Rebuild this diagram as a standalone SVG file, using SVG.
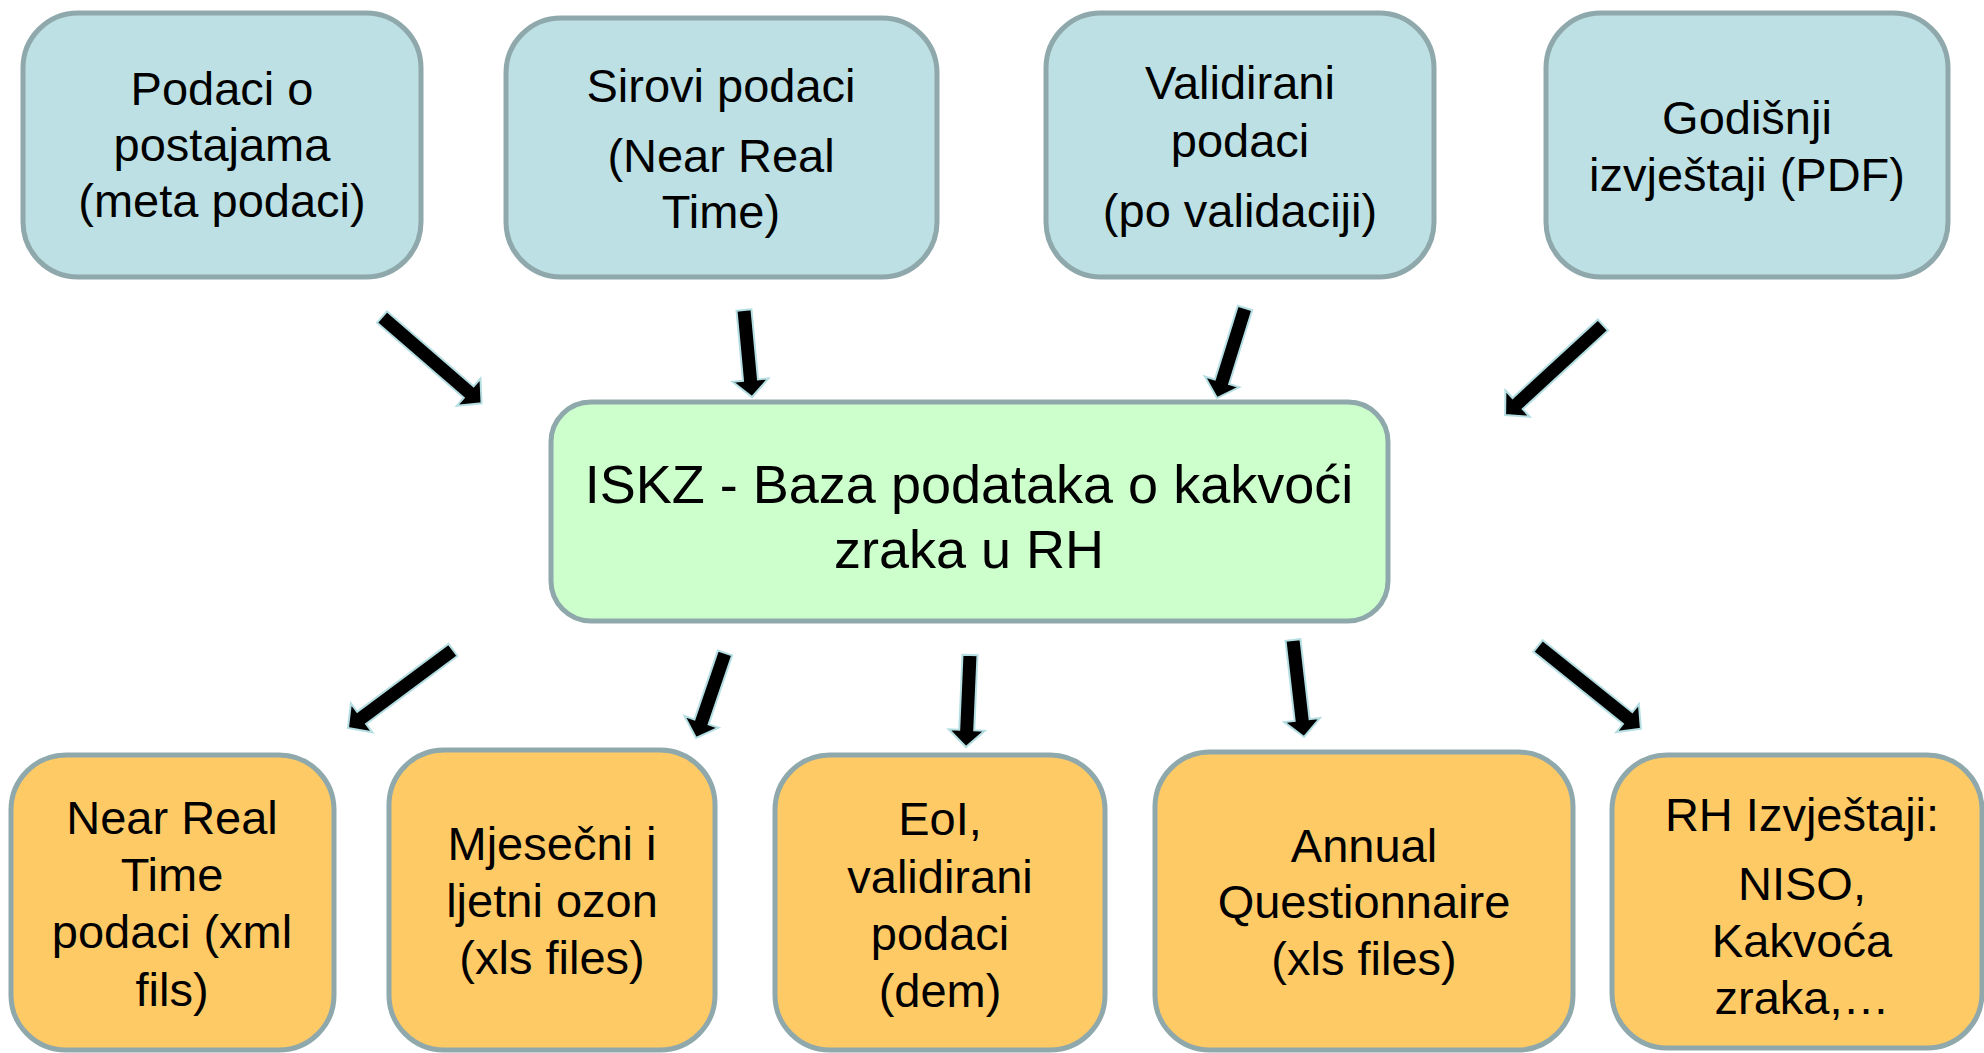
<svg xmlns="http://www.w3.org/2000/svg" width="1984" height="1053" viewBox="0 0 1984 1053">
<style>
.box{stroke:#8FA8AB;stroke-width:5}
.src{fill:#BCE0E3}
.db{fill:#CCFFCC}
.out{fill:#FECA66}
text{font-family:"Liberation Sans",Arial,sans-serif;font-size:47px;fill:#000;text-anchor:middle}
.big{font-size:54px}
.arr{fill:#000;stroke:#B4DEE2;stroke-width:2;stroke-linejoin:miter}
</style>
<rect width="1984" height="1053" fill="#fff"/>
<g id="connectors">
<polygon class="arr" points="0,-7.5 114.7,-7.5 114.7,-18 131.7,0 114.7,18 114.7,7.5 0,7.5" transform="translate(382,317) rotate(40.9)"/>
<polygon class="arr" points="0,-7.5 70.4,-7.5 70.4,-18 87.4,0 70.4,18 70.4,7.5 0,7.5" transform="translate(744,310) rotate(84.7)"/>
<polygon class="arr" points="0,-7.5 77.3,-7.5 77.3,-18 94.3,0 77.3,18 77.3,7.5 0,7.5" transform="translate(1245,308) rotate(107.3)"/>
<polygon class="arr" points="0,-7.5 116,-7.5 116,-18 133,0 116,18 116,7.5 0,7.5" transform="translate(1603,325) rotate(137.4)"/>
<polygon class="arr" points="0,-7.5 113.8,-7.5 113.8,-18 130.8,0 113.8,18 113.8,7.5 0,7.5" transform="translate(453,650) rotate(143.4)"/>
<polygon class="arr" points="0,-7.5 72.8,-7.5 72.8,-18 89.8,0 72.8,18 72.8,7.5 0,7.5" transform="translate(725,653) rotate(108.8)"/>
<polygon class="arr" points="0,-7.5 75.1,-7.5 75.1,-18 92.1,0 75.1,18 75.1,7.5 0,7.5" transform="translate(970,655) rotate(92.5)"/>
<polygon class="arr" points="0,-7.5 80.6,-7.5 80.6,-18 97.6,0 80.6,18 80.6,7.5 0,7.5" transform="translate(1293,640) rotate(83.5)"/>
<polygon class="arr" points="0,-7.5 115,-7.5 115,-18 132,0 115,18 115,7.5 0,7.5" transform="translate(1538,646) rotate(38.8)"/>
</g>
<g id="n-postaje">
<rect class="box src" x="23" y="13" width="398" height="264" rx="55"/>
<text x="222" y="105">Podaci o</text>
<text x="222" y="161">postajama</text>
<text x="222" y="217">(meta podaci)</text>
</g>
<g id="n-sirovi">
<rect class="box src" x="506" y="18" width="431" height="259" rx="55"/>
<text x="721" y="102">Sirovi podaci</text>
<text x="721" y="172">(Near Real</text>
<text x="721" y="228">Time)</text>
</g>
<g id="n-validirani">
<rect class="box src" x="1046" y="13" width="388" height="264" rx="55"/>
<text x="1240" y="99">Validirani</text>
<text x="1240" y="157">podaci</text>
<text x="1240" y="227">(po validaciji)</text>
</g>
<g id="n-godisnji">
<rect class="box src" x="1546" y="13" width="402" height="264" rx="55"/>
<text x="1747" y="134">Godišnji</text>
<text x="1747" y="191">izvještaji (PDF)</text>
</g>
<g id="n-iskz">
<rect class="box db" x="551" y="402" width="837" height="219" rx="40"/>
<text class="big" x="969" y="503">ISKZ - Baza podataka o kakvoći</text>
<text class="big" x="969" y="568">zraka u RH</text>
</g>
<g id="n-nrt">
<rect class="box out" x="11" y="755" width="323" height="295" rx="55"/>
<text x="172" y="834">Near Real</text>
<text x="172" y="891">Time</text>
<text x="172" y="948">podaci (xml</text>
<text x="172" y="1006">fils)</text>
</g>
<g id="n-ozon">
<rect class="box out" x="389" y="750" width="326" height="300" rx="55"/>
<text x="552" y="860">Mjesečni i</text>
<text x="552" y="917">ljetni ozon</text>
<text x="552" y="974">(xls files)</text>
</g>
<g id="n-eoi">
<rect class="box out" x="775" y="755" width="330" height="295" rx="55"/>
<text x="940" y="835">EoI,</text>
<text x="940" y="893">validirani</text>
<text x="940" y="950">podaci</text>
<text x="940" y="1007">(dem)</text>
</g>
<g id="n-aq">
<rect class="box out" x="1155" y="752" width="418" height="298" rx="55"/>
<text x="1364" y="862">Annual</text>
<text x="1364" y="918">Questionnaire</text>
<text x="1364" y="975">(xls files)</text>
</g>
<g id="n-rh">
<rect class="box out" x="1612" y="755" width="370" height="293" rx="55"/>
<text x="1802" y="831">RH Izvještaji:</text>
<text x="1802" y="900">NISO,</text>
<text x="1802" y="957">Kakvoća</text>
<text x="1802" y="1014">zraka,…</text>
</g>
</svg>
